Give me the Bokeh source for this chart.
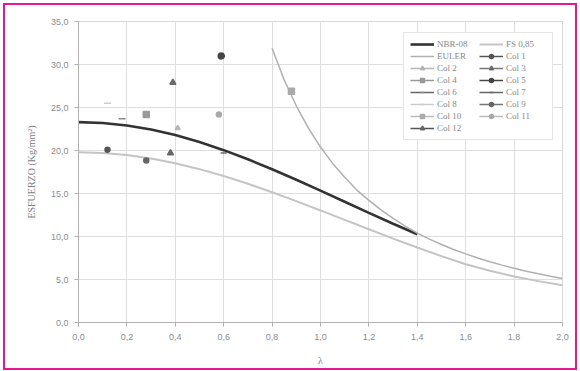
from bokeh.plotting import figure
from bokeh.models import Legend, LegendItem, CustomJSTickFormatter, FixedTicker, Range1d
from bokeh.embed import file_html
from bokeh.resources import INLINE

# ---- data ----
lam_nbr = [0.0, 0.1, 0.2, 0.3, 0.4, 0.5, 0.6, 0.7, 0.8, 0.9, 1.0, 1.1, 1.2, 1.3, 1.4]
esf_nbr = [23.30, 23.20, 22.91, 22.44, 21.79, 20.98, 20.04, 18.98, 17.82, 16.60,
           15.33, 14.04, 12.75, 11.48, 10.26]

lam_fs = [0.0, 0.1, 0.2, 0.3, 0.4, 0.5, 0.6, 0.7, 0.8, 0.9, 1.0, 1.1, 1.2, 1.3, 1.4,
          1.5, 1.6, 1.7, 1.8, 1.9, 2.0]
esf_fs = [19.81, 19.72, 19.47, 19.07, 18.52, 17.83, 17.03, 16.13, 15.15, 14.11,
          13.03, 11.93, 10.84, 9.76, 8.72, 7.72, 6.78, 6.01, 5.36, 4.81, 4.34]

lam_euler = [0.80, 0.85, 0.90, 0.95, 1.00, 1.05, 1.10, 1.15, 1.20, 1.25, 1.30, 1.35,
             1.40, 1.45, 1.50, 1.55, 1.60, 1.65, 1.70, 1.75, 1.80, 1.85, 1.90, 1.95, 2.00]
esf_euler = [31.9, 28.2, 25.2, 22.6, 20.4, 18.5, 16.9, 15.4, 14.2, 13.1, 12.1, 11.2,
             10.4, 9.7, 9.07, 8.49, 7.98, 7.50, 7.07, 6.67, 6.31, 5.97, 5.66, 5.37, 5.11]

col_names = ["Col 1", "Col 2", "Col 3", "Col 4", "Col 5", "Col 6",
             "Col 7", "Col 8", "Col 9", "Col 10", "Col 11", "Col 12"]
col_lam = [0.12, 0.41, 0.39, 0.28, 0.59, 0.18, 0.60, 0.12, 0.28, 0.88, 0.58, 0.38]
col_esf = [20.1, 22.6, 27.9, 24.2, 31.0, 23.7, 19.7, 25.5, 18.85, 26.9, 24.2, 19.7]

x_ticks = [0.0, 0.2, 0.4, 0.6, 0.8, 1.0, 1.2, 1.4, 1.6, 1.8, 2.0]
y_ticks = [0, 5, 10, 15, 20, 25, 30, 35]

# ---- styles ----
col_marker = ["circle", "triangle", "triangle", "square", "circle", "dash",
              "dash", "dash", "circle", "square", "circle", "triangle"]
col_color = ["#555555", "#b5b5b5", "#6a6a6a", "#9a9a9a", "#444444", "#8a8a8a",
             "#666666", "#cccccc", "#666666", "#aaaaaa", "#a8a8a8", "#666666"]
col_line = ["#555555", "#b5b5b5", "#777777", "#999999", "#444444", "#666666",
            "#666666", "#cccccc", "#777777", "#bbbbbb", "#bbbbbb", "#555555"]
col_size = [5, 5, 6, 6, 6, 7, 6, 7, 5, 6, 5, 6]

SANS = "Liberation Sans"
SERIF = "Liberation Serif"

p = figure(width=570, height=363, output_backend="svg", toolbar_location=None,
           x_range=Range1d(0, 2.0), y_range=Range1d(0, 35),
           min_border_left=73, min_border_right=13, min_border_top=16, min_border_bottom=40)
p.styles = {"margin-left": "5px", "margin-top": "5px",
            "outline": "2px solid #e5198d", "outline-offset": "0px"}
p.background_fill_color = "white"
p.border_fill_color = "white"
p.outline_line_color = "#d8d8d8"

p.xaxis.ticker = FixedTicker(ticks=x_ticks)
p.yaxis.ticker = FixedTicker(ticks=y_ticks)
p.xaxis.formatter = CustomJSTickFormatter(code="return tick.toFixed(1).replace('.', ',');")
p.yaxis.formatter = CustomJSTickFormatter(code="return tick.toFixed(1).replace('.', ',');")
for ax in (p.xaxis[0], p.yaxis[0]):
    ax.axis_line_color = "#b0b0b0"
    ax.major_tick_line_color = "#b0b0b0"
    ax.major_tick_out = 4
    ax.major_tick_in = 0
    ax.minor_tick_line_color = None
    ax.major_label_text_font = SANS
    ax.major_label_text_font_size = "9px"
    ax.major_label_text_color = "#8c8c8c"
    ax.axis_label_text_font = SERIF
    ax.axis_label_text_font_size = "10px"
    ax.axis_label_text_color = "#808080"
    ax.axis_label_text_font_style = "normal"
p.xaxis.major_label_standoff = 7
p.yaxis.major_label_standoff = 6
p.xaxis.axis_label = "λ"
p.yaxis.axis_label = "ESFUERZO (Kg/mm²)"
p.xaxis.axis_label_standoff = 12
p.yaxis.axis_label_standoff = 11

p.xgrid.grid_line_color = "#dedede"
p.ygrid.grid_line_color = "#dedede"

r_nbr = p.line(lam_nbr, esf_nbr, line_color="#333333", line_width=2.6)
r_fs = p.line(lam_fs, esf_fs, line_color="#c4c4c4", line_width=2)
r_eu = p.line(lam_euler, esf_euler, line_color="#b0b0b0", line_width=1.5)
named = {"NBR-08": [r_nbr], "FS 0,85": [r_fs], "EULER": [r_eu]}

for i, name in enumerate(col_names):
    rl = p.line([col_lam[i]], [col_esf[i]], line_color=col_line[i], line_width=1.5)
    rs = p.scatter([col_lam[i]], [col_esf[i]], marker=col_marker[i], size=col_size[i],
                   fill_color=col_color[i], line_color=col_color[i], line_width=1.5)
    named[name] = [rl, rs]

order = ["NBR-08", "FS 0,85", "EULER", "Col 1", "Col 2", "Col 3", "Col 4", "Col 5",
         "Col 6", "Col 7", "Col 8", "Col 9", "Col 10", "Col 11", "Col 12"]
arranged = order[0::2] + order[1::2]
items = [LegendItem(label=name, renderers=named[name]) for name in arranged]

legend = Legend(items=items, location=(325, 182), ncols=2,
                label_text_font=SERIF, label_text_font_size="9px",
                label_text_color="#888888", glyph_width=24, glyph_height=10,
                label_height=10, label_width=40, label_standoff=3, spacing=2,
                padding=6, margin=0,
                border_line_color="#cccccc", background_fill_alpha=1)
p.add_layout(legend, "center")

open("out.html", "w").write(file_html(p, INLINE))
